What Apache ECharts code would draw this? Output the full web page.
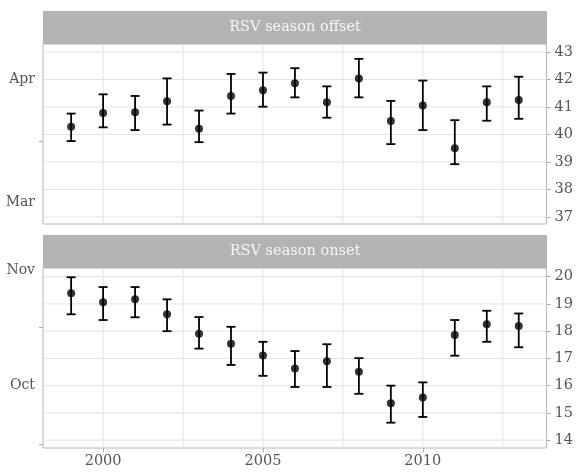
<!DOCTYPE html>
<html>
<head>
<meta charset="utf-8">
<script src="https://cdn.jsdelivr.net/npm/echarts@6/dist/echarts.min.js"></script>
<style>html,body{margin:0;padding:0;background:#fff}#c{width:576px;height:474px}</style>
</head>
<body>
<div id="c"></div>
<script>
// ---- data ----
const years = [1999,2000,2001,2002,2003,2004,2005,2006,2007,2008,2009,2010,2011,2012,2013];
const offsetMean = [40.28,40.78,40.81,41.21,40.21,41.40,41.61,41.86,41.17,42.04,40.49,41.05,39.50,41.17,41.25];
const offsetLow  = [39.76,40.26,40.16,40.36,39.72,40.76,41.01,41.35,40.61,41.35,39.65,40.16,38.92,40.50,40.57];
const offsetHigh = [40.76,41.46,41.40,42.04,40.87,42.20,42.25,42.41,41.75,42.75,41.22,41.96,40.52,41.75,42.10];
const onsetMean  = [19.39,19.06,19.17,18.62,17.91,17.54,17.11,16.63,16.90,16.51,15.35,15.56,17.86,18.25,18.19];
const onsetLow   = [18.62,18.41,18.51,18.00,17.36,16.76,16.36,15.95,15.95,15.70,14.64,14.85,17.10,17.61,17.41];
const onsetHigh  = [19.98,19.62,19.62,19.17,18.52,18.16,17.61,17.27,17.52,17.01,16.00,16.12,18.41,18.75,18.65];
const panelTitles = ['RSV season offset','RSV season onset'];
const xTickVals = [2000,2005,2010];
const xMinorVals = [2002.5,2007.5,2012.5];
const offsetTicks = [37,38,39,40,41,42,43];
const onsetTicks = [14,15,16,17,18,19,20];
const offsetMonthVals = [37.55,42.0];
const offsetMonthLabels = ['Mar','Apr'];
const offsetMidTicks = [39.77];
const onsetMonthVals = [16.0,20.22];
const onsetMonthLabels = ['Oct','Nov'];
const onsetMidTicks = [13.85,18.16];

// ---- layout ----
const FONT = 'DejaVu Serif';
const LBL = '#555555';
const GRIDC = '#e3e3e3';
const panelL = 43, panelR = 547;
const grids = [{top:44, h:180}, {top:268, h:180}];
const yRanges = [[36.745,43.29],[13.71,20.32]];
const xRange = [1998.12,2013.87];

const chart = echarts.init(document.getElementById('c'), null, {renderer:'canvas'});

function monthFmt(vals, labels){
  return function(v){
    for (let i=0;i<vals.length;i++) if (Math.abs(v-vals[i])<1e-6) return labels[i];
    return '';
  };
}

const xAxes = grids.map((g,i)=>({
  type:'value', gridIndex:i, min:xRange[0], max:xRange[1],
  axisLine:{show:false}, splitLine:{show:false},
  axisTick:{show:i===1, customValues:xTickVals, length:4, lineStyle:{color:'#aaaaaa'}},
  axisLabel:{show:i===1, customValues:xTickVals, color:LBL, fontFamily:FONT, fontSize:14.5, margin:6,
             formatter:v=>String(Math.round(v))}
}));

const tickSets = [offsetTicks, onsetTicks];
const monthVals = [offsetMonthVals, onsetMonthVals];
const monthLabels = [offsetMonthLabels, onsetMonthLabels];
const midTicks = [offsetMidTicks, onsetMidTicks];

const yAxes = [];
grids.forEach((g,i)=>{
  yAxes.push({
    type:'value', gridIndex:i, position:'left', min:yRanges[i][0], max:yRanges[i][1],
    axisLine:{show:false}, splitLine:{show:false},
    axisTick:{show:true, customValues:midTicks[i], length:4, lineStyle:{color:'#aaaaaa'}},
    axisLabel:{customValues:monthVals[i], formatter:monthFmt(monthVals[i], monthLabels[i]),
               color:LBL, fontFamily:FONT, fontSize:14, margin:8}
  });
  yAxes.push({
    type:'value', gridIndex:i, position:'right', min:yRanges[i][0], max:yRanges[i][1],
    axisLine:{show:false}, splitLine:{show:false},
    axisTick:{show:true, customValues:tickSets[i], length:4, lineStyle:{color:'#aaaaaa'}},
    axisLabel:{customValues:tickSets[i], color:LBL, fontFamily:FONT, fontSize:14.5, margin:8,
               formatter:v=>String(Math.round(v))}
  });
});

function gridSeries(i){
  const data = [];
  tickSets[i].forEach(v=>data.push([0,v]));
  xTickVals.concat(xMinorVals).forEach(v=>data.push([1,v]));
  return {
    type:'custom', xAxisIndex:i, yAxisIndex:2*i, silent:true, z:1,
    data:data,
    encode:{x:-1,y:-1},
    renderItem:function(params, api){
      const cs = params.coordSys;
      const kind = api.value(0), v = api.value(1);
      let shape;
      if (kind===0){
        const y = api.coord([xRange[0], v])[1];
        shape = {x1:cs.x, y1:y, x2:cs.x+cs.width, y2:y};
      } else {
        const x = api.coord([v, yRanges[i][0]])[0];
        shape = {x1:x, y1:cs.y, x2:x, y2:cs.y+cs.height};
      }
      return {type:'line', shape:shape, style:{stroke:GRIDC, lineWidth:1}};
    }
  };
}

function errSeries(i, lows, highs){
  return {
    type:'custom', xAxisIndex:i, yAxisIndex:2*i, z:3,
    data: years.map((y,k)=>[y, lows[k], highs[k]]),
    encode:{x:0, y:[1,2]},
    renderItem:function(params, api){
      const x = api.value(0);
      const lo = api.coord([x, api.value(1)]);
      const hi = api.coord([x, api.value(2)]);
      const w = 4.5;
      const st = {stroke:'#000', lineWidth:1.8};
      return {type:'group', children:[
        {type:'line', shape:{x1:lo[0],y1:lo[1],x2:hi[0],y2:hi[1]}, style:st},
        {type:'line', shape:{x1:lo[0]-w,y1:lo[1],x2:lo[0]+w,y2:lo[1]}, style:st},
        {type:'line', shape:{x1:hi[0]-w,y1:hi[1],x2:hi[0]+w,y2:hi[1]}, style:st}
      ]};
    }
  };
}

function pointSeries(i, means){
  return {
    type:'scatter', xAxisIndex:i, yAxisIndex:2*i, z:4,
    symbol:'circle', symbolSize:8, itemStyle:{color:'#000'},
    data: years.map((y,k)=>[y, means[k]]), silent:true
  };
}

const graphics = [];
grids.forEach((g,i)=>{
  graphics.push({type:'rect', left:panelL, top:g.top-33, shape:{width:panelR-panelL, height:33},
                 style:{fill:'#b3b3b3'}, z:10});
  graphics.push({type:'text', x:(panelL+panelR)/2, y:g.top-16.5,
                 style:{text:panelTitles[i], fill:'#f5f5f5', font:'14.5px "DejaVu Serif"',
                        align:'center', verticalAlign:'middle'}, z:11});
});

chart.setOption({
  animation:false,
  backgroundColor:'#ffffff',
  grid: grids.map(g=>({left:panelL, right:576-panelR, top:g.top, height:g.h,
                       show:true, borderColor:'#b5b5b5', borderWidth:1, backgroundColor:'#fff'})),
  xAxis: xAxes,
  yAxis: yAxes,
  graphic: graphics,
  series: [
    gridSeries(0), gridSeries(1),
    errSeries(0, offsetLow, offsetHigh), errSeries(1, onsetLow, onsetHigh),
    pointSeries(0, offsetMean), pointSeries(1, onsetMean)
  ]
});
</script>
</body>
</html>
